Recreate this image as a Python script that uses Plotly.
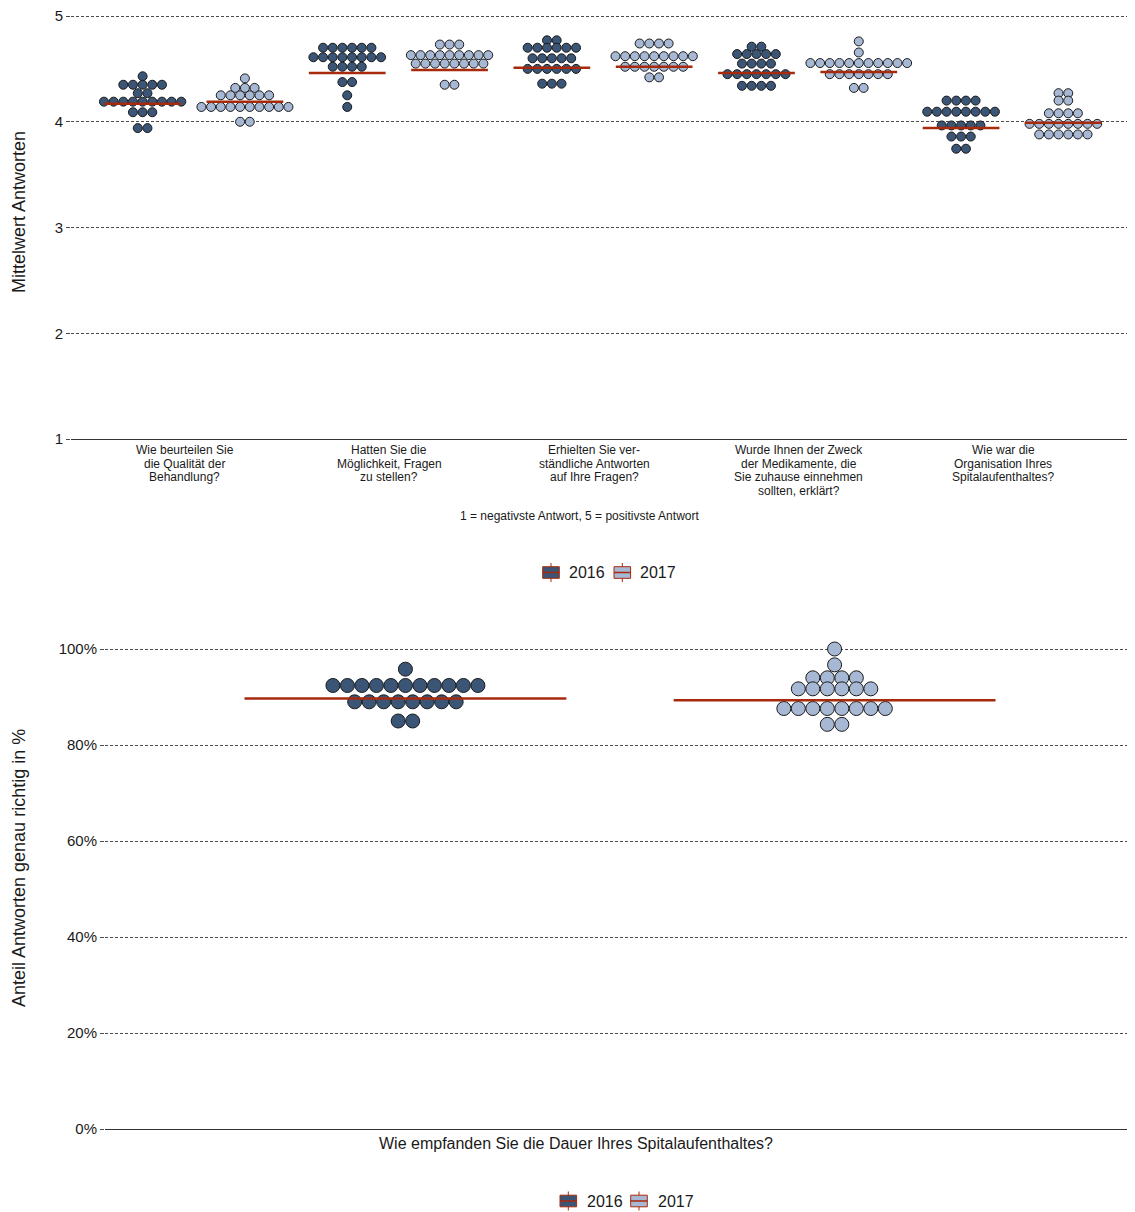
import plotly.graph_objects as go
from collections import Counter

# ---------------- data ----------------
years = ["2016", "2017"]
questions_top = [
    "Wie beurteilen Sie<br>die Qualität der<br>Behandlung?",
    "Hatten Sie die<br>Möglichkeit, Fragen<br>zu stellen?",
    "Erhielten Sie ver-<br>ständliche Antworten<br>auf Ihre Fragen?",
    "Wurde Ihnen der Zweck<br>der Medikamente, die<br>Sie zuhause einnehmen<br>sollten, erklärt?",
    "Wie war die<br>Organisation Ihres<br>Spitalaufenthaltes?",
]
top_ticks = [1, 2, 3, 4, 5]

q1_2016 = [4.43, 4.35, 4.35, 4.35, 4.35, 4.35, 4.27, 4.27,
           4.19, 4.19, 4.19, 4.19, 4.19, 4.19, 4.19, 4.19, 4.19,
           4.09, 4.09, 4.09, 3.94, 3.94]
q1_2017 = [4.41, 4.32, 4.32, 4.32, 4.25, 4.25, 4.25, 4.25, 4.25, 4.25,
           4.14, 4.14, 4.14, 4.14, 4.14, 4.14, 4.14, 4.14, 4.14, 4.14,
           4.00, 4.00]
q2_2016 = [4.70, 4.70, 4.70, 4.70, 4.70, 4.70,
           4.61, 4.61, 4.61, 4.61, 4.61, 4.61, 4.61, 4.61,
           4.52, 4.52, 4.52, 4.52, 4.375, 4.375, 4.25, 4.14]
q2_2017 = [4.73, 4.73, 4.73,
           4.63, 4.63, 4.63, 4.63, 4.63, 4.63, 4.63, 4.63, 4.63,
           4.55, 4.55, 4.55, 4.55, 4.55, 4.55, 4.55, 4.55, 4.35, 4.35]
q3_2016 = [4.77, 4.77, 4.70, 4.70, 4.70, 4.70, 4.70, 4.70,
           4.60, 4.60, 4.60, 4.60, 4.60,
           4.50, 4.50, 4.50, 4.50, 4.50, 4.50, 4.36, 4.36, 4.36]
q3_2017 = [4.74, 4.74, 4.74, 4.74,
           4.62, 4.62, 4.62, 4.62, 4.62, 4.62, 4.62, 4.62, 4.62,
           4.52, 4.52, 4.52, 4.52, 4.52, 4.52, 4.52, 4.42, 4.42]
q4_2016 = [4.71, 4.71, 4.64, 4.64, 4.64, 4.64, 4.64,
           4.55, 4.55, 4.55, 4.55,
           4.45, 4.45, 4.45, 4.45, 4.45, 4.45, 4.45,
           4.34, 4.34, 4.34, 4.34]
q4_2017 = [4.76, 4.655,
           4.555, 4.555, 4.555, 4.555, 4.555, 4.555, 4.555, 4.555, 4.555, 4.555, 4.555,
           4.45, 4.45, 4.45, 4.45, 4.45, 4.45, 4.45, 4.32, 4.32]
q5_2016 = [4.20, 4.20, 4.20, 4.20,
           4.095, 4.095, 4.095, 4.095, 4.095, 4.095, 4.095, 4.095,
           3.965, 3.965, 3.965, 3.965, 3.965, 3.86, 3.86, 3.86, 3.745, 3.745]
q5_2017 = [4.27, 4.27, 4.20, 4.20, 4.08, 4.08, 4.08, 4.08,
           3.98, 3.98, 3.98, 3.98, 3.98, 3.98, 3.98, 3.98,
           3.88, 3.88, 3.88, 3.88, 3.88, 3.88]
top_2016 = [q1_2016, q2_2016, q3_2016, q4_2016, q5_2016]
top_2017 = [q1_2017, q2_2017, q3_2017, q4_2017, q5_2017]
mean_top_2016 = [4.17, 4.46, 4.51, 4.46, 3.94]
mean_top_2017 = [4.19, 4.49, 4.52, 4.47, 3.99]

question_bottom = ["Wie empfanden Sie die Dauer Ihres Spitalaufenthaltes?"]
d_2016 = [95.8, 92.4, 92.4, 92.4, 92.4, 92.4, 92.4, 92.4, 92.4, 92.4, 92.4, 92.4,
          89.0, 89.0, 89.0, 89.0, 89.0, 89.0, 89.0, 89.0, 85.0, 85.0]
d_2017 = [100.0, 96.7, 94.0, 94.0, 94.0, 94.0,
          91.7, 91.7, 91.7, 91.7, 91.7, 91.7,
          87.6, 87.6, 87.6, 87.6, 87.6, 87.6, 87.6, 87.6, 84.3, 84.3]
mean_bottom_2016 = [89.7]
mean_bottom_2017 = [89.3]
bottom_ticks = [0, 20, 40, 60, 80, 100]
bottom_ticktext = ["0%", "20%", "40%", "60%", "80%", "100%"]

# ---------------- style ----------------
# the page body has an 8px margin: the figure is drawn 8px in from the top-left corner
OFF = 8
W, H = 1135 - OFF, 1212 - OFF
FONT = "Liberation Sans, Arial, Helvetica, sans-serif"
TXT = "#1a1a1a"
FILL = {"2016": "#3b5577", "2017": "#a7b8d5"}
RED = "#a82a0c"
OUTLINE = "#1a1a1a"
GRID = "#4a4a4a"
DODGE = 0.25
HALF_LINE = 0.1875

# pixel layout (screen pixels)
top_x0, top_x1 = 71, 1135
top_y_bottom, top_y_top = 439, OFF
bot_x0, bot_x1 = 105, 1135
bot_y_bottom, bot_y_top = 1129, 620
top_xrange = [0.4, 5.6]
bot_xrange = [0.4, 1.6]
top_yrange = [1, 5 + (16 - top_y_top) / 105.75]
bot_yrange = [0, 100 + (649 - bot_y_top) / 4.8]
top_dot_px, bot_dot_px = 9.67, 14.5
label_first_line_y, label_line_step = 450.5, 13.4

top_ppu = (top_x1 - top_x0) / (top_xrange[1] - top_xrange[0])
bot_ppu = (bot_x1 - bot_x0) / (bot_xrange[1] - bot_xrange[0])


def swarm(values, center, step):
    counts = Counter(values)
    seen = Counter()
    xs = []
    for v in values:
        n = counts[v]
        k = seen[v]
        seen[v] += 1
        xs.append(center + (k - (n - 1) / 2) * step)
    return xs


fig = go.Figure()

for yr, groups, off in (("2016", top_2016, -DODGE), ("2017", top_2017, DODGE)):
    xs, ys = [], []
    for i, vals in enumerate(groups):
        xs += swarm(vals, top_ticks[i] + off, top_dot_px / top_ppu)
        ys += vals
    fig.add_trace(go.Scatter(x=xs, y=ys, mode="markers", xaxis="x", yaxis="y",
                             marker=dict(size=9, color=FILL[yr],
                                         line=dict(color=OUTLINE, width=1)),
                             showlegend=False, hoverinfo="skip"))
for means, off in ((mean_top_2016, -DODGE), (mean_top_2017, DODGE)):
    for i, m in enumerate(means):
        c = top_ticks[i] + off
        fig.add_trace(go.Scatter(x=[c - HALF_LINE, c + HALF_LINE], y=[m, m], mode="lines",
                                 xaxis="x", yaxis="y", line=dict(color=RED, width=2.5),
                                 showlegend=False, hoverinfo="skip"))

for yr, vals, m, off in (("2016", d_2016, mean_bottom_2016, -DODGE),
                         ("2017", d_2017, mean_bottom_2017, DODGE)):
    fig.add_trace(go.Scatter(x=swarm(vals, 1 + off, bot_dot_px / bot_ppu), y=vals,
                             mode="markers", xaxis="x2", yaxis="y2",
                             marker=dict(size=14, color=FILL[yr],
                                         line=dict(color=OUTLINE, width=1)),
                             showlegend=False, hoverinfo="skip"))
    c = 1 + off
    fig.add_trace(go.Scatter(x=[c - HALF_LINE, c + HALF_LINE], y=[m[0], m[0]], mode="lines",
                             xaxis="x2", yaxis="y2", line=dict(color=RED, width=2.5),
                             showlegend=False, hoverinfo="skip"))


def px(x):
    return (x - OFF) / W


def py(y):
    return 1 - (y - OFF) / H


shapes = []
annotations = []

# category labels of the top panel, one line each (tight line spacing like the original)
for tick, label in zip(top_ticks, questions_top):
    for k, line in enumerate(label.split("<br>")):
        annotations.append(dict(text=line, xref="x", yref="paper", x=tick, xshift=-9,
                                y=py(label_first_line_y + k * label_line_step),
                                xanchor="center", yanchor="middle", showarrow=False,
                                font=dict(family=FONT, size=12, color=TXT)))


def legend(yc, keys_x, text_x):
    for yr, kx, tx in zip(years, keys_x, text_x):
        x0, x1 = kx, kx + 16.6
        y0, y1 = yc - 5.8, yc + 5.8
        xm = (x0 + x1) / 2
        shapes.append(dict(type="line", xref="paper", yref="paper", x0=px(xm), x1=px(xm),
                           y0=py(yc - 9.5), y1=py(yc + 9.5), line=dict(color=RED, width=1)))
        shapes.append(dict(type="rect", xref="paper", yref="paper", x0=px(x0), x1=px(x1),
                           y0=py(y1), y1=py(y0), fillcolor=FILL[yr],
                           line=dict(color=RED, width=1)))
        shapes.append(dict(type="line", xref="paper", yref="paper", x0=px(x0), x1=px(x1),
                           y0=py(yc), y1=py(yc), line=dict(color=RED, width=1.5)))
        annotations.append(dict(text=yr, xref="paper", yref="paper", x=px(tx), y=py(yc),
                                xanchor="left", yanchor="middle", showarrow=False,
                                font=dict(family=FONT, size=16, color=TXT)))


legend(572.5, [542.7, 614.0], [566.5, 638.0])
legend(1201, [560.0, 630.7], [584.5, 655.5])

annotations.append(dict(text="Mittelwert Antworten", xref="paper", yref="paper",
                        x=px(19), y=py(212), textangle=-90, showarrow=False,
                        xanchor="center", yanchor="middle",
                        font=dict(family=FONT, size=18, color=TXT)))
annotations.append(dict(text="Anteil Antworten genau richtig in %", xref="paper", yref="paper",
                        x=px(19), y=py(868), textangle=-90, showarrow=False,
                        xanchor="center", yanchor="middle",
                        font=dict(family=FONT, size=18, color=TXT)))
annotations.append(dict(text="1 = negativste Antwort, 5 = positivste Antwort",
                        xref="paper", yref="paper", x=px(579), y=py(516),
                        xanchor="center", yanchor="middle", showarrow=False,
                        font=dict(family=FONT, size=12, color=TXT)))

grid_common = dict(showgrid=True, gridcolor=GRID, gridwidth=0.8, griddash="3px,2px",
                   zeroline=False, ticks="outside", ticklen=4, tickcolor=GRID, tickwidth=1,
                   automargin=False, ticklabeloverflow="allow",
                   tickfont=dict(family=FONT, size=15, color=TXT), fixedrange=True)

fig.update_layout(
    template="none",
    width=W, height=H, autosize=False,
    margin=dict(l=0, r=0, t=0, b=0, pad=0, autoexpand=False),
    paper_bgcolor="white", plot_bgcolor="white", showlegend=False,
    shapes=shapes, annotations=annotations,
    xaxis=dict(domain=[px(top_x0), px(top_x1)], range=top_xrange, anchor="y",
               tickvals=top_ticks, showticklabels=False, ticks="", showgrid=False,
               zeroline=False, showline=True, linecolor="#333333", linewidth=1,
               automargin=False, fixedrange=True),
    yaxis=dict(domain=[py(top_y_bottom), py(top_y_top)], range=top_yrange, anchor="x",
               tickvals=top_ticks, **grid_common),
    xaxis2=dict(domain=[px(bot_x0), px(bot_x1)], range=bot_xrange, anchor="y2",
                tickvals=[1], ticktext=question_bottom, ticks="", showgrid=False,
                zeroline=False, showline=True, linecolor="#333333", linewidth=1,
                automargin=False,
                tickfont=dict(family=FONT, size=16, color=TXT), ticklabelshift=-44,
                fixedrange=True),
    yaxis2=dict(domain=[py(bot_y_bottom), py(bot_y_top)], range=bot_yrange, anchor="x2",
                tickvals=bottom_ticks, ticktext=bottom_ticktext, **grid_common),
)

fig.write_html("out.html")
